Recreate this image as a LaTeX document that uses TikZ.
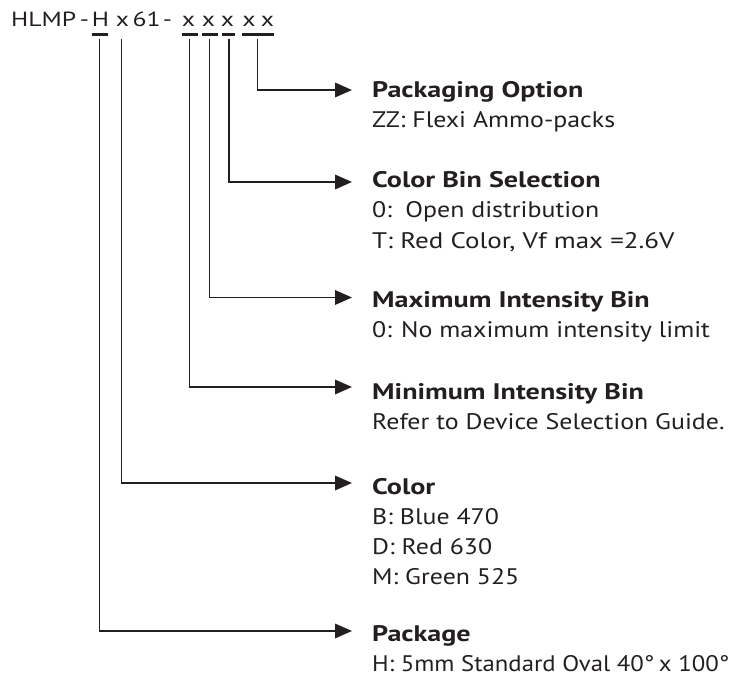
\documentclass[tikz,border=0pt]{standalone}
\usepackage{fontspec}
\setmainfont{PT Sans}
\newfontfamily\bodyfont{PT Sans}[FakeStretch=1.15]
\newfontfamily\narrowfont{PT Sans}[FakeStretch=1.10]
\newfontfamily\widefont{PT Sans}[FakeStretch=1.20]
\newfontfamily\headfont{PT Sans}[FakeStretch=1.25]
\newfontfamily\pnfont{PT Sans}[FakeStretch=1.25]
\usetikzlibrary{arrows.meta}
\definecolor{ink}{HTML}{231F20}
\tikzset{
  conn/.style={draw=ink, line width=1.8pt, line join=miter, -{Triangle[length=17pt,width=14.5pt]}},
  uline/.style={draw=ink, line width=2.7pt},
  ttl/.style={anchor=base west, inner sep=0pt, text=ink, font=\headfont\fontsize{22.5}{30}\selectfont\bfseries},
  body/.style={anchor=base west, inner sep=0pt, text=ink, font=\bodyfont\fontsize{22.5}{30}\selectfont},
  pn/.style={anchor=base, inner sep=0pt, text=ink, font=\pnfont\fontsize{20.5}{26}\selectfont},
}
\begin{document}
\begin{tikzpicture}[x=1pt,y=-1pt]
\useasboundingbox (0,0) rectangle (736,679);
% part number
\node[pn, anchor=base west] (pHLMP) at (11,27) {HLMP};
\node[pn] (pd1) at (84.5,27) {-};
\node[pn] (pH) at (100.5,27) {H};
\node[pn] (px0) at (122.5,27) {x};
\node[pn] (p61) at (146.5,27) {61};
\node[pn] (pd2) at (167.5,27) {-};
\node[pn] (px1) at (188.5,27) {x};
\node[pn] (px2) at (208.5,27) {x};
\node[pn] (px3) at (227.5,27) {x};
\node[pn] (px4) at (249,27) {x};
\node[pn] (px5) at (267.5,27) {x};
% underlines
\draw[uline] (92.3,34.3) -- (107.7,34.3);
\draw[uline] (182.3,34.3) -- (197.7,34.3);
\draw[uline] (202.3,34.3) -- (217.7,34.3);
\draw[uline] (221.7,34.3) -- (235,34.3);
\draw[uline] (242.3,34.3) -- (274.3,34.3);
% connector start points
\coordinate (u1) at (99.5,39);
\coordinate (u2) at (121.5,39);
\coordinate (u3) at (189.5,39);
\coordinate (u4) at (209.5,39);
\coordinate (u5) at (229,39);
\coordinate (u6) at (257.5,39);
% arrow tips
\coordinate (a6) at (352,90);
\coordinate (a5) at (352,182);
\coordinate (a4) at (352,297.5);
\coordinate (a3) at (352,387);
\coordinate (a2) at (352,483);
\coordinate (a1) at (352,631);
% texts
\node[ttl] (t6) at (372,97.5) {Packaging Option};
\node[body] (b6a) at (372,127.5) {ZZ: Flexi Ammo-packs};
\node[ttl] (t5) at (372,187.5) {Color Bin Selection};
\node[body] (b5a) at (372,218) {0:\hspace{0.6em}Open distribution};
\node[body, font=\widefont\fontsize{22.5}{30}\selectfont] (b5b) at (372,248) {T: Red Color, Vf max =2.6V};
\node[ttl] (t4) at (372,307) {Maximum Intensity Bin};
\node[body] (b4a) at (372,337.5) {0: No maximum intensity limit};
\node[ttl] (t3) at (372,399) {Minimum Intensity Bin};
\node[body] (b3a) at (372,429.5) {Refer to Device Selection Guide.};
\node[ttl] (t2) at (372,494) {Color};
\node[body] (b2a) at (372,524) {B: Blue 470};
\node[body] (b2b) at (372,554) {D: Red 630};
\node[body] (b2c) at (372,584) {M: Green 525};
\node[ttl] (t1) at (372,641) {Package};
\node[body, font=\narrowfont\fontsize{22.5}{30}\selectfont] (b1a) at (372,671) {H: 5mm Standard Oval 40°\hspace{0.2em}x 100°};
% connectors
\draw[conn] (u6) |- (a6);
\draw[conn] (u5) |- (a5);
\draw[conn] (u4) |- (a4);
\draw[conn] (u3) |- (a3);
\draw[conn] (u2) |- (a2);
\draw[conn] (u1) |- (a1);
\end{tikzpicture}
\end{document}
